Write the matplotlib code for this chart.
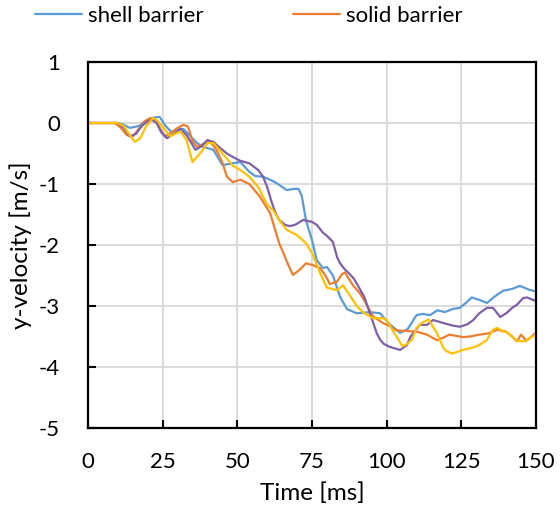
import matplotlib
matplotlib.use("Agg")
import matplotlib.pyplot as plt

# ---- data ----
shell_t = [0, 10, 12, 14, 17, 20, 22, 24, 26, 28, 30, 32, 34, 36.5, 38.5, 42, 45, 48.5, 51, 54, 56, 58.6, 61, 63,
           66.5, 69, 70.5, 71.6, 73, 75, 76.6, 78.7, 80, 82, 84.4, 86.7, 90, 94.4, 97.8, 101, 104.5, 107, 110, 112,
           114.5, 117, 119.5, 122, 124.5, 126.5, 128.5, 131, 133.6, 136, 139, 142, 144.6, 148, 150]
shell_v = [0, 0, -0.03, -0.08, -0.05, 0.05, 0.09, 0.1, -0.05, -0.15, -0.1, -0.1, -0.2, -0.33, -0.39, -0.44, -0.69,
           -0.66, -0.64, -0.8, -0.87, -0.88, -0.93, -0.98, -1.1, -1.08, -1.08, -1.2, -1.6, -1.92, -2.25, -2.38, -2.36,
           -2.5, -2.85, -3.05, -3.12, -3.1, -3.12, -3.3, -3.44, -3.38, -3.15, -3.13, -3.15, -3.07, -3.1, -3.05, -3.03,
           -2.95, -2.86, -2.9, -2.95, -2.85, -2.75, -2.72, -2.67, -2.74, -2.76]

solid_t = [0, 9, 11, 13, 15, 17, 19, 20.8, 22.5, 24, 25.8, 28, 30, 32, 33.5, 35, 36.5, 38, 40, 41, 43, 45, 46.5,
           48.5, 51, 54, 57.6, 61, 64, 66, 67, 68.6, 70, 71, 73, 75.3, 77.7, 79.5, 81, 83.4, 85, 86, 88.7, 91, 93,
           95.4, 98.8, 101, 103.4, 106.8, 110, 113.5, 116.8, 118.9, 121, 125.5, 128, 131, 134, 137, 140, 142, 143.6,
           145, 146.8, 148.5, 150]
solid_v = [0, 0, -0.08, -0.2, -0.22, -0.1, 0.03, 0.08, 0.05, -0.08, -0.22, -0.15, -0.08, -0.03, -0.06, -0.3, -0.39,
           -0.36, -0.3, -0.31, -0.44, -0.65, -0.88, -0.97, -0.93, -1.0, -1.21, -1.48, -1.97, -2.2, -2.32, -2.49,
           -2.44, -2.4, -2.3, -2.33, -2.38, -2.5, -2.64, -2.6, -2.48, -2.45, -2.66, -2.79, -2.95, -3.17, -3.28, -3.33,
           -3.4, -3.41, -3.42, -3.47, -3.56, -3.52, -3.47, -3.51, -3.5, -3.47, -3.45, -3.39, -3.42, -3.5, -3.58,
           -3.47, -3.57, -3.5, -3.44]

purple_t = [0, 10, 12, 14, 16, 18, 20, 21.4, 23, 24.5, 26.4, 28, 31, 33, 36, 38, 40, 42, 44, 46.5, 49, 51, 54, 55.6,
            57, 58.6, 60, 61.5, 63, 64, 66, 67.6, 69.3, 71, 72, 73, 75, 76.6, 78.7, 80, 81, 82, 83.4, 84.4, 86, 87.7,
            89, 91, 92.5, 94.4, 96.7, 97.8, 99, 101, 104.5, 106.8, 108, 110, 111, 113.5, 115.5, 117, 119, 122, 124.5,
            127, 129, 131, 133.6, 135.6, 138, 140, 142, 143.6, 145.7, 147, 149, 150]
purple_v = [0, 0, -0.08, -0.22, -0.18, -0.05, 0.03, 0.05, 0.0, -0.15, -0.25, -0.2, -0.1, -0.2, -0.44, -0.38, -0.28,
            -0.31, -0.4, -0.5, -0.57, -0.62, -0.66, -0.72, -0.77, -0.88, -1.05, -1.3, -1.5, -1.59, -1.67, -1.69,
            -1.67, -1.62, -1.59, -1.6, -1.62, -1.67, -1.8, -1.85, -1.9, -1.95, -2.2, -2.3, -2.4, -2.48, -2.55, -2.72,
            -2.85, -3.12, -3.45, -3.55, -3.62, -3.67, -3.72, -3.64, -3.5, -3.38, -3.31, -3.31, -3.23, -3.25, -3.28,
            -3.32, -3.34, -3.3, -3.23, -3.12, -3.03, -3.03, -3.18, -3.12, -3.03, -2.98, -2.87, -2.86, -2.9, -2.92]

yellow_t = [0, 10, 12, 14, 15.7, 17.5, 19.5, 21.8, 23, 25.8, 27.5, 29, 31, 33, 35, 37.5, 40, 42, 45, 48.5, 51, 54, 57,
            60, 62, 64, 66.5, 70, 73, 75.3, 77.7, 80, 83.4, 85.4, 88, 90, 92, 95.4, 98.8, 100, 102, 103.4, 105.3, 107,
            108.5, 110, 112, 114, 116.8, 119, 120, 122, 125.5, 129, 131, 133.5, 135.6, 137, 139, 140, 142, 143.6,
            146.5, 148, 150]
yellow_v = [0, 0, -0.05, -0.2, -0.31, -0.25, -0.05, 0.08, 0.05, -0.11, -0.22, -0.18, -0.14, -0.28, -0.64, -0.5,
            -0.33, -0.33, -0.5, -0.7, -0.77, -0.88, -1.05, -1.34, -1.43, -1.59, -1.75, -1.84, -1.97, -2.16, -2.46,
            -2.7, -2.74, -2.66, -2.85, -3.0, -3.1, -3.2, -3.2, -3.23, -3.4, -3.51, -3.66, -3.62, -3.55, -3.36, -3.27,
            -3.22, -3.44, -3.69, -3.74, -3.78, -3.72, -3.68, -3.64, -3.56, -3.39, -3.36, -3.42, -3.42, -3.5, -3.57,
            -3.58, -3.52, -3.47]

x_ticks = [0, 25, 50, 75, 100, 125, 150]
y_ticks = [-5, -4, -3, -2, -1, 0, 1]
x_label = "Time [ms]"
y_label = "y-velocity [m/s]"

# ---- plot ----
plt.rcParams['font.family'] = ['Lato', 'DejaVu Sans']
plt.rcParams['axes.unicode_minus'] = False
fig = plt.figure(figsize=(5.6, 5.08), dpi=100)
ax = fig.add_axes([88/560, 1-428/508, 448/560, 366/508])

lw = 1.6
kw = dict(lw=lw, solid_joinstyle='round', solid_capstyle='round')
l1, = ax.plot(shell_t, shell_v, color='#5B9BD5', label='shell barrier', **kw)
l2, = ax.plot(solid_t, solid_v, color='#ED7D31', label='solid barrier', **kw)
ax.plot(purple_t, purple_v, color='#7F60A8', **kw)
ax.plot(yellow_t, yellow_v, color='#FFC000', **kw)

ax.set_xlim(0, 150)
ax.set_ylim(-5, 1)
ax.set_xticks(x_ticks)
ax.set_yticks(y_ticks)
ax.grid(True, color='#D9D9D9', lw=1.3)
ax.set_axisbelow(True)
for s in ax.spines.values():
    s.set_color('black')
    s.set_linewidth(1.6)
ax.tick_params(axis='both', direction='in', length=6, width=1.5, labelsize=16,
               top=False, right=False)
ax.tick_params(axis='x', pad=17)
ax.tick_params(axis='y', pad=20)
ax.set_xlabel(x_label, fontsize=17.5, labelpad=8)
ax.set_ylabel(y_label, fontsize=17.5, labelpad=5)

fig.legend(handles=[l1, l2], loc='center left', bbox_to_anchor=(35/560, 1-16/508), ncol=2,
           frameon=False, fontsize=16, handlelength=2.1, handletextpad=0.3, columnspacing=4.0,
           borderpad=0, borderaxespad=0)

fig.savefig('out.png', dpi=100)
